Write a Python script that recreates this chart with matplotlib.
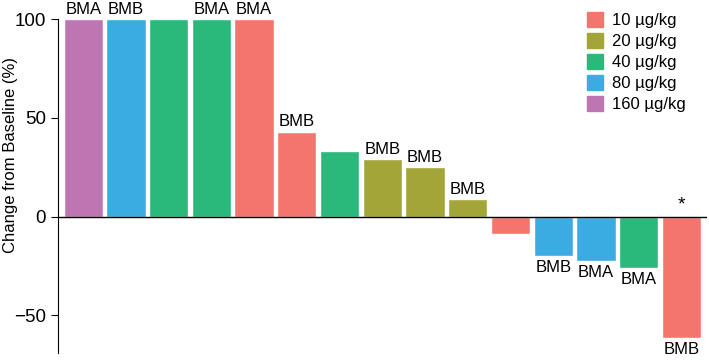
import matplotlib
matplotlib.use("Agg")
import matplotlib.pyplot as plt
from matplotlib.patches import Patch

plt.rcParams['font.family'] = ['Liberation Sans', 'DejaVu Sans']

values = [100, 100, 100, 100, 100, 42.9, 33.4, 29.2, 25.0, 8.8,
          -8.8, -19.9, -22.3, -25.8, -61.6]
doses = ['160', '80', '40', '40', '10', '10', '40', '20', '20', '20',
         '10', '80', '80', '40', '10']
labels = ['BMA', 'BMB', '', 'BMA', 'BMA', 'BMB', '', 'BMB', 'BMB', 'BMB',
          '', 'BMB', 'BMA', 'BMA', 'BMB']
dose_levels = ['10', '20', '40', '80', '160']
colors = {'10': '#F4756D', '20': '#A3A539', '40': '#2AB87B',
          '80': '#3AACE2', '160': '#BD76B2'}

fig = plt.figure(figsize=(7.09, 3.6), dpi=100)
ax = fig.add_axes([58/709, 7/360, 649/709, 334/360])

x = range(len(values))
ax.bar(x, values, width=0.92, color=[colors[d] for d in doses],
       edgecolor='white', linewidth=1)

for i, (v, lab) in enumerate(zip(values, labels)):
    if not lab:
        continue
    if v > 0:
        ax.text(i, v + 1.2, lab, ha='center', va='bottom', fontsize=12, clip_on=False)
    else:
        ax.text(i, v - 2, lab, ha='center', va='top', fontsize=12)
ax.text(14, 1.5, '*', ha='center', va='bottom', fontsize=14)

ax.axhline(0, color='black', linewidth=1)
ax.set_xlim(-0.59, 14.6)
ax.set_ylim(-69, 100)
ax.set_yticks([-50, 0, 50, 100])
ax.set_xticks([])
ax.tick_params(axis='y', labelsize=13.5, length=5)
ax.set_ylabel('Change from Baseline (%)', fontsize=12)
ax.yaxis.set_label_coords(-0.062, 0.593)
for s in ['top', 'right', 'bottom']:
    ax.spines[s].set_visible(False)

handles = [Patch(color=colors[d], label=d + ' µg/kg') for d in dose_levels]
ax.legend(handles=handles, loc='upper right', bbox_to_anchor=(0.99, 1.065),
          frameon=False, fontsize=12, handlelength=1.0, handleheight=1.0,
          labelspacing=0.28, handletextpad=0.5)

fig.savefig('out.png', dpi=100)
